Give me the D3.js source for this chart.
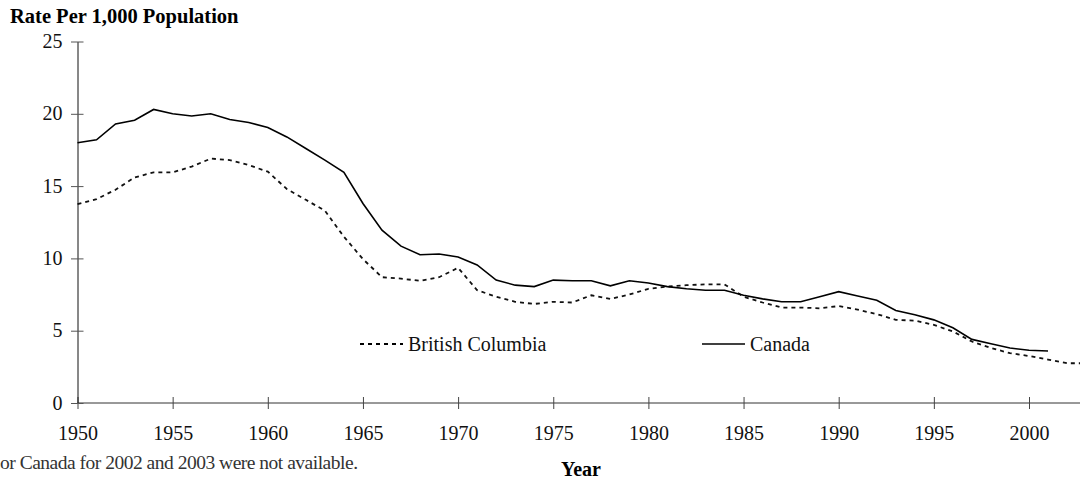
<!DOCTYPE html>
<html>
<head>
<meta charset="utf-8">
<script src="https://cdn.jsdelivr.net/npm/d3@7.9.0/dist/d3.min.js"></script>
<style>
  html, body { margin: 0; padding: 0; background: #fff; }
  svg { display: block; font-family: "Liberation Serif", "Times New Roman", serif; }
  .tick text { font-size: 20px; fill: #111; }
</style>
</head>
<body>
<svg width="1080" height="479"></svg>
<script>
// data
const years = d3.range(1950, 2004);
const canada = [18.0, 18.2, 19.3, 19.55, 20.3, 20.0, 19.85, 20.0, 19.6, 19.4,
  19.05, 18.4, 17.6, 16.8, 15.95, 13.8, 11.95, 10.85, 10.25, 10.3,
  10.1, 9.55, 8.5, 8.15, 8.05, 8.5, 8.45, 8.45, 8.1, 8.45,
  8.3, 8.05, 7.9, 7.8, 7.8, 7.45, 7.2, 7.0, 7.0, 7.35,
  7.7, 7.4, 7.1, 6.4, 6.1, 5.75, 5.2, 4.4, 4.1, 3.8,
  3.65, 3.6]; // 2002, 2003 not available
const bc = [13.75, 14.1, 14.75, 15.6, 15.95, 15.95, 16.35, 16.9, 16.8, 16.45,
  16.0, 14.8, 14.05, 13.3, 11.5, 9.95, 8.7, 8.6, 8.45, 8.7,
  9.35, 7.8, 7.35, 7.0, 6.85, 7.0, 6.95, 7.45, 7.2, 7.5,
  7.9, 8.05, 8.15, 8.2, 8.2, 7.35, 6.95, 6.6, 6.6, 6.55,
  6.7, 6.45, 6.15, 5.75, 5.7, 5.4, 4.95, 4.25, 3.8, 3.45,
  3.25, 3.0, 2.75, 2.75];
const xTicks = [1950, 1955, 1960, 1965, 1970, 1975, 1980, 1985, 1990, 1995, 2000];
const yTicks = [0, 5, 10, 15, 20, 25];

const svg = d3.select('svg');

const x = d3.scaleLinear().domain([1950, 2000]).range([77.5, 1029]);
const y = d3.scaleLinear().domain([0, 25]).range([403, 41.5]);

// x axis
const xAxis = svg.append('g')
  .attr('transform', `translate(0,${y(0)})`)
  .call(d3.axisBottom(x).tickValues(xTicks).tickFormat(d3.format('d')).tickSizeOuter(0))
  .attr('font-family', null).attr('font-size', null);
xAxis.select('.domain').attr('d', `M${x(1950)},0H${x(2003)}`).attr('stroke', '#333');
xAxis.selectAll('.tick line').attr('y1', -6).attr('y2', 6).attr('stroke', '#444');
xAxis.selectAll('.tick text').attr('y', 37).attr('dy', 0);

// y axis
const yAxis = svg.append('g')
  .attr('transform', `translate(${x(1950)},0)`)
  .call(d3.axisLeft(y).tickValues(yTicks).tickSizeOuter(0))
  .attr('font-family', null).attr('font-size', null);
yAxis.select('.domain').attr('stroke', '#111');
yAxis.selectAll('.tick line').attr('x1', -6.5).attr('x2', 6).attr('stroke', '#555');
yAxis.selectAll('.tick text').attr('x', -15).attr('dy', '0.3em');

// lines
const line = d3.line()
  .x((d, i) => x(years[i]))
  .y(d => y(d));

svg.append('path')
  .datum(bc)
  .attr('d', line)
  .attr('fill', 'none')
  .attr('stroke', '#111')
  .attr('stroke-width', 1.8)
  .attr('stroke-dasharray', '4,4');

svg.append('path')
  .datum(canada)
  .attr('d', line)
  .attr('fill', 'none')
  .attr('stroke', '#000')
  .attr('stroke-width', 1.6);

// legend
const legend = [
  { label: 'British Columbia', x: 360, dash: '4,4' },
  { label: 'Canada', x: 702, dash: null }
];
legend.forEach(d => {
  svg.append('line')
    .attr('x1', d.x).attr('x2', d.x + 43)
    .attr('y1', 344).attr('y2', 344)
    .attr('stroke', '#000')
    .attr('stroke-width', d.dash ? 1.8 : 1.6)
    .attr('stroke-dasharray', d.dash);
  svg.append('text')
    .attr('x', d.x + 48).attr('y', 351)
    .attr('font-size', 20)
    .attr('fill', '#111')
    .text(d.label);
});

// titles
svg.append('text')
  .attr('x', 10).attr('y', 23)
  .attr('font-size', 20.5).attr('font-weight', 'bold')
  .text('Rate Per 1,000 Population');

svg.append('text')
  .attr('x', 561).attr('y', 476)
  .attr('font-size', 20).attr('font-weight', 'bold')
  .text('Year');

// footnote (cut off at left edge)
svg.append('text')
  .attr('x', 0).attr('y', 469)
  .attr('font-size', 19.5)
  .attr('fill', '#333')
  .attr('textLength', 358)
  .text('or Canada for 2002 and 2003 were not available.');
</script>
</body>
</html>
